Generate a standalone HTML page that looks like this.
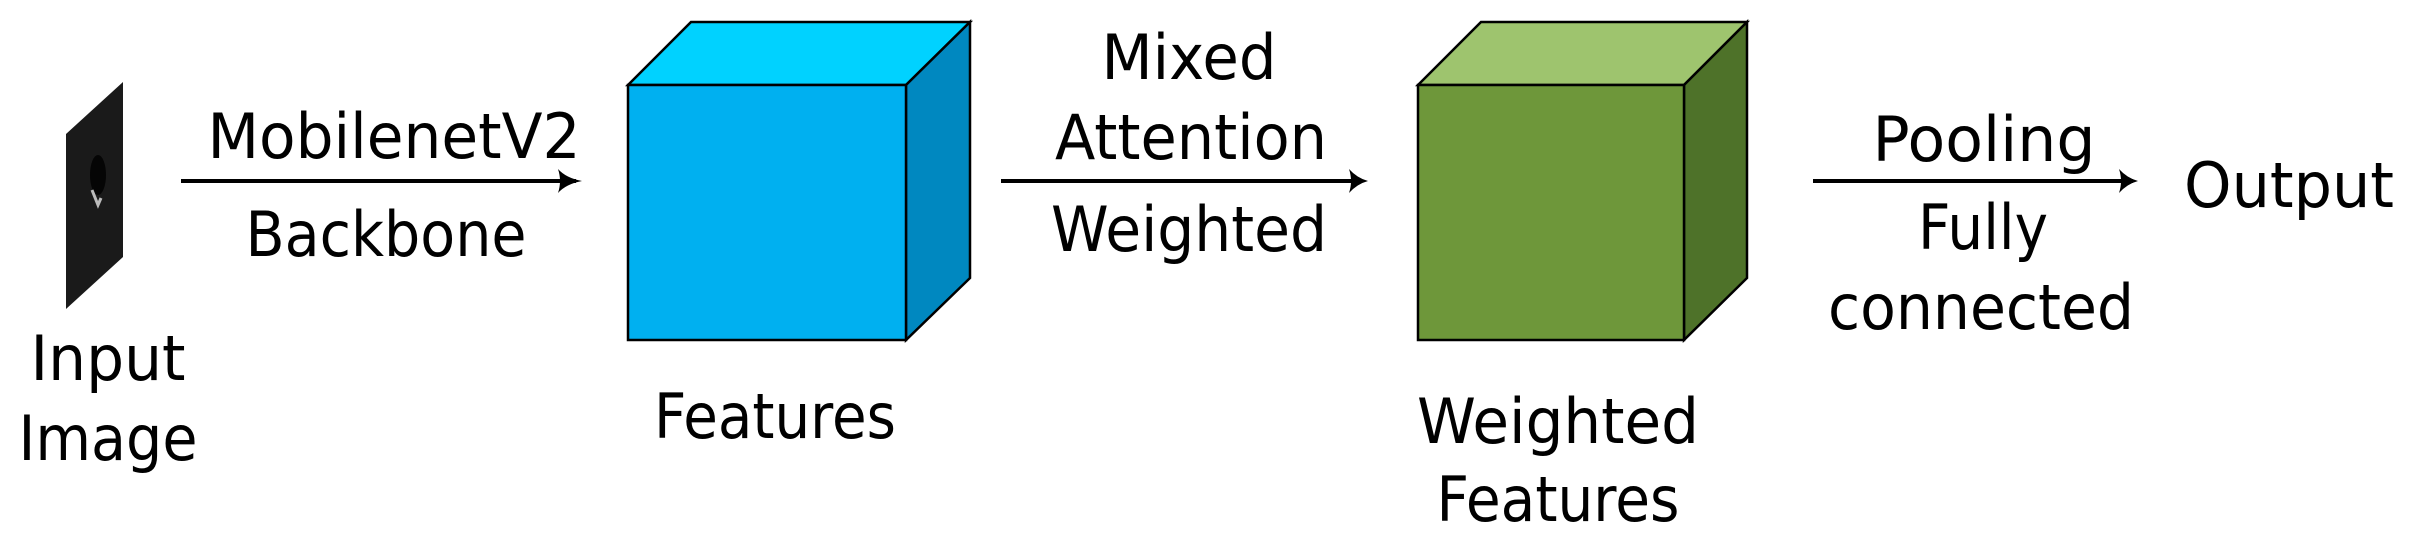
<!DOCTYPE html>
<html><head><meta charset="utf-8"><style>html,body{margin:0;padding:0;background:#fff}svg{display:block}</style></head>
<body>
<svg width="2410" height="549" viewBox="0 0 2410 549" xmlns="http://www.w3.org/2000/svg" font-family="'DejaVu Sans','Liberation Sans',sans-serif" font-size="62" fill="#000">
<defs>
<radialGradient id="spot" cx="0.5" cy="0.5" r="0.5"><stop offset="0" stop-color="#000"/><stop offset="1" stop-color="#1a1a1a"/></radialGradient>
</defs>
<!-- input image -->
<polygon points="66,134 123,82 123,257 66,309" fill="#1a1a1a"/>
<ellipse cx="98" cy="175" rx="8" ry="20" fill="#050505"/>
<path d="M92 190 L98 205 L101 198" stroke="#bbb" stroke-width="3" fill="none"/>
<!-- arrows -->
<g stroke="#000" stroke-width="4">
<line x1="181" y1="181" x2="576" y2="181"/>
<line x1="1001" y1="181" x2="1362" y2="181"/>
<line x1="1813" y1="181" x2="2133" y2="181"/>
</g>
<path d="M558 169 Q566 178 582 181 Q566 184 558 193 Q562 181 558 169Z"/>
<path d="M1349 169 Q1357 178 1368 181 Q1357 184 1349 193 Q1353 181 1349 169Z"/>
<path d="M2119 169 Q2127 178 2138 181 Q2127 184 2119 193 Q2123 181 2119 169Z"/>
<!-- blue cube -->
<g stroke="#000" stroke-width="2.5" stroke-linejoin="miter">
<polygon points="628,85 691,22 970,22 906,85" fill="#00D2FF"/>
<polygon points="906,85 970,22 970,278 906,340" fill="#0088C0"/>
<rect x="628" y="85" width="278" height="255" fill="#00B0F0"/>
<polygon points="1418,85 1481,22 1747,22 1684,85" fill="#9EC46E"/>
<polygon points="1684,85 1747,22 1747,278 1684,340" fill="#4E7229"/>
<rect x="1418" y="85" width="266" height="255" fill="#6E973A"/>
</g>
<g text-anchor="middle" lengthAdjust="spacingAndGlyphs">
<text x="394" y="158" textLength="373" lengthAdjust="spacingAndGlyphs">MobilenetV2</text>
<text x="386" y="256" textLength="281" lengthAdjust="spacingAndGlyphs">Backbone</text>
<text x="108" y="380" textLength="155" lengthAdjust="spacingAndGlyphs">Input</text>
<text x="108" y="460" textLength="179" lengthAdjust="spacingAndGlyphs">Image</text>
<text x="775" y="438" textLength="242" lengthAdjust="spacingAndGlyphs">Features</text>
<text x="1189" y="79" textLength="175" lengthAdjust="spacingAndGlyphs">Mixed</text>
<text x="1191" y="159" textLength="272" lengthAdjust="spacingAndGlyphs">Attention</text>
<text x="1189" y="251" textLength="276" lengthAdjust="spacingAndGlyphs">Weighted</text>
<text x="1558" y="443" textLength="282" lengthAdjust="spacingAndGlyphs">Weighted</text>
<text x="1558" y="521" textLength="243" lengthAdjust="spacingAndGlyphs">Features</text>
<text x="1984" y="161" textLength="223" lengthAdjust="spacingAndGlyphs">Pooling</text>
<text x="1983" y="249" textLength="130" lengthAdjust="spacingAndGlyphs">Fully</text>
<text x="1981" y="329" textLength="306" lengthAdjust="spacingAndGlyphs">connected</text>
<text x="2289" y="207" textLength="210" lengthAdjust="spacingAndGlyphs">Output</text>
</g>
</svg>
</body></html>
